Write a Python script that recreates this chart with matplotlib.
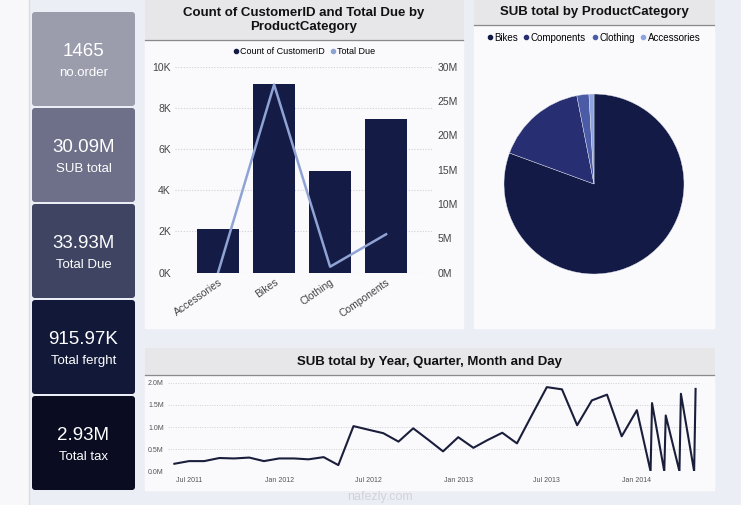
import numpy as np
import pandas as pd
import matplotlib
matplotlib.use('Agg')
from matplotlib import pyplot as plt
from matplotlib.patches import FancyBboxPatch, Rectangle
from matplotlib.lines import Line2D
import matplotlib.dates as mdates

plt.rcParams['font.family'] = ['Liberation Sans', 'DejaVu Sans']

W, H = 741, 505

# KPI cards
kpi_values = ['1465', '30.09M', '33.93M', '915.97K', '2.93M']
kpi_labels = ['no.order', 'SUB total', 'Total Due', 'Total ferght', 'Total tax']
kpi_colors = ['#9b9dac', '#6d7088', '#3e4462', '#121838', '#0a0d21']

# bar + line chart
categories = ['Accessories', 'Bikes', 'Clothing', 'Components']
customer_count = [2100, 9150, 4950, 7450]
total_due = [0.05e6, 27.4e6, 0.87e6, 5.6e6]

# pie
pie_labels = ['Bikes', 'Components', 'Clothing', 'Accessories']
pie_values = [24.25e6, 4.92e6, 0.65e6, 0.27e6]
pie_colors = ['#131a45', '#272f72', '#4b5ba6', '#8ea4df']

# SUB total over time (millions)
sub_dates = list(pd.date_range('2011-06-01', '2014-01-01', freq='MS')) + list(pd.to_datetime(
    ['2014-01-29', '2014-02-01', '2014-02-26', '2014-03-01',
     '2014-03-29', '2014-04-01', '2014-04-28', '2014-05-01']))
sub_values = [0.17, 0.23, 0.23, 0.30, 0.29, 0.31, 0.23,
              0.29, 0.29, 0.27, 0.32, 0.14, 1.02, 0.94, 0.86, 0.67, 0.97, 0.71, 0.45,
              0.77, 0.53, 0.70, 0.87, 0.63, 1.28, 1.90, 1.85, 1.04, 1.60, 1.73, 0.79,
              1.38, 0, 1.54, 0, 1.26, 0, 1.75, 0, 1.86]

bar_color = '#141b45'
due_color = '#8fa3d4'
grid_color = '#cfcfd6'
tick_color = '#444444'

fig = plt.figure(figsize=(W / 100, H / 100), dpi=100)
fig.patch.set_facecolor('#eceef5')


def px_axes(x0, y0, x1, y1, **kw):
    return fig.add_axes([x0 / W, 1 - y1 / H, (x1 - x0) / W, (y1 - y0) / H], **kw)


# background layer in pixel coords
bg = px_axes(0, 0, W, H)
bg.set_xlim(0, W)
bg.set_ylim(H, 0)
bg.axis('off')
bg.set_zorder(-10)

bg.add_patch(Rectangle((0, 0), 28, H, color='#f8f8fa'))
bg.plot([28.5, 28.5], [0, H], color='#dcdde4', lw=1)

# cards
card_tops = [12, 108, 204, 300, 396]
for top, val, lab, col in zip(card_tops, kpi_values, kpi_labels, kpi_colors):
    bg.add_patch(FancyBboxPatch((32, top), 103, 94, boxstyle='round,pad=0,rounding_size=3',
                                facecolor=col, edgecolor='none'))
    bg.text(83.5, top + 40, val, color='white', fontsize=13.5, ha='center', va='center')
    bg.text(83.5, top + 61, lab, color='white', fontsize=9.5, ha='center', va='center')


def panel(x0, y0, x1, y1, head, title, fs=9.5):
    bg.add_patch(Rectangle((x0, y0), x1 - x0, y1 - y0, color='#fafafd'))
    bg.add_patch(Rectangle((x0, y0), x1 - x0, head, color='#e7e7e9'))
    bg.plot([x0, x1], [y0 + head, y0 + head], color='#8a8a8a', lw=0.9)
    bg.text((x0 + x1) / 2, y0 + head / 2, title, fontsize=fs, fontweight='bold',
            ha='center', va='center', color='#111111', linespacing=1.15)


panel(145, 0, 463, 328, 40, 'Count of CustomerID and Total Due by\nProductCategory')
panel(474, 0, 714, 328, 25, 'SUB total by ProductCategory')
panel(145, 348, 714, 490, 27, 'SUB total by Year, Quarter, Month and Day')

# ---- bar chart ----
ax = px_axes(175, 66.7, 432, 272.7)
x = np.arange(len(categories))
ax.bar(x, customer_count, width=0.75, color=bar_color, zorder=2)
ax.set_xlim(-0.77, 3.82)
ax.set_ylim(0, 10000)
ax.set_yticks([0, 2000, 4000, 6000, 8000, 10000])
ax.set_yticklabels(['0K', '2K', '4K', '6K', '8K', '10K'])
ax.set_xticks(x)
ax.set_xticklabels(categories, rotation=35, ha='right', rotation_mode='anchor')
ax.grid(axis='y', linestyle=(0, (1, 1.5)), color=grid_color, lw=0.8, zorder=0)
ax.set_facecolor('none')
for s in ax.spines.values():
    s.set_visible(False)
ax.tick_params(length=0, labelsize=7.5, colors=tick_color, pad=3)

ax2 = ax.twinx()
ax2.plot(x, total_due, color=due_color, lw=1.8, zorder=3)
ax2.set_ylim(0, 30e6)
ax2.set_yticks(np.arange(0, 31e6, 5e6))
ax2.set_yticklabels(['0M', '5M', '10M', '15M', '20M', '25M', '30M'])
for s in ax2.spines.values():
    s.set_visible(False)
ax2.tick_params(length=0, labelsize=7.5, colors=tick_color, pad=4)

h1 = [Line2D([], [], marker='o', ls='none', color=bar_color, markersize=3),
      Line2D([], [], marker='o', ls='none', color=due_color, markersize=3)]
fig.legend(h1, ['Count of CustomerID', 'Total Due'], loc='center',
           bbox_to_anchor=(304 / W, 1 - 51.7 / H), ncol=2, frameon=False, fontsize=6.5,
           handletextpad=0.05, columnspacing=0.5, handlelength=0.8)

# ---- pie ----
pax = px_axes(504, 94, 684, 274)
pax.pie(pie_values, colors=pie_colors, startangle=90, counterclock=False, radius=1,
        wedgeprops=dict(edgecolor='#dfe3f0', linewidth=0.3))
pax.set_xlim(-1, 1)
pax.set_ylim(-1, 1)
pax.set_aspect('equal')

h2 = [Line2D([], [], marker='o', ls='none', color=c, markersize=3) for c in pie_colors]
fig.legend(h2, pie_labels, loc='center', bbox_to_anchor=(593 / W, 1 - 37.7 / H), ncol=4,
           frameon=False, fontsize=7, handletextpad=0.05, columnspacing=0.5, handlelength=0.8)

# ---- line chart ----
lax = px_axes(168, 382.7, 700, 471.3)
lax.plot(sub_dates, np.array(sub_values) * 1e6, color='#1b1e3b', lw=1.5)
lax.set_xlim(mdates.date2num(pd.Timestamp('2011-05-19')), mdates.date2num(pd.Timestamp('2014-05-10')))
lax.set_ylim(0, 2e6)
lax.set_yticks([0, 0.5e6, 1e6, 1.5e6, 2e6])
lax.set_yticklabels(['0.0M', '0.5M', '1.0M', '1.5M', '2.0M'])
ticks = pd.to_datetime(['2011-07-01', '2012-01-01', '2012-07-01', '2013-01-01', '2013-07-01', '2014-01-01'])
lax.set_xticks(mdates.date2num(ticks))
lax.set_xticklabels([t.strftime('%b %Y') for t in ticks])
lax.grid(axis='y', linestyle=(0, (1, 1.5)), color=grid_color, lw=0.7)
lax.set_facecolor('none')
for s in lax.spines.values():
    s.set_visible(False)
lax.tick_params(length=0, labelsize=5, colors='#555555')
lax.tick_params(axis='y', pad=3)
lax.tick_params(axis='x', pad=4)

bg.text(380, 497, 'nafezly.com', fontsize=9, color='#c8c8cc', ha='center', va='center', alpha=0.7)

fig.savefig('out.png', dpi=100, facecolor=fig.get_facecolor())
